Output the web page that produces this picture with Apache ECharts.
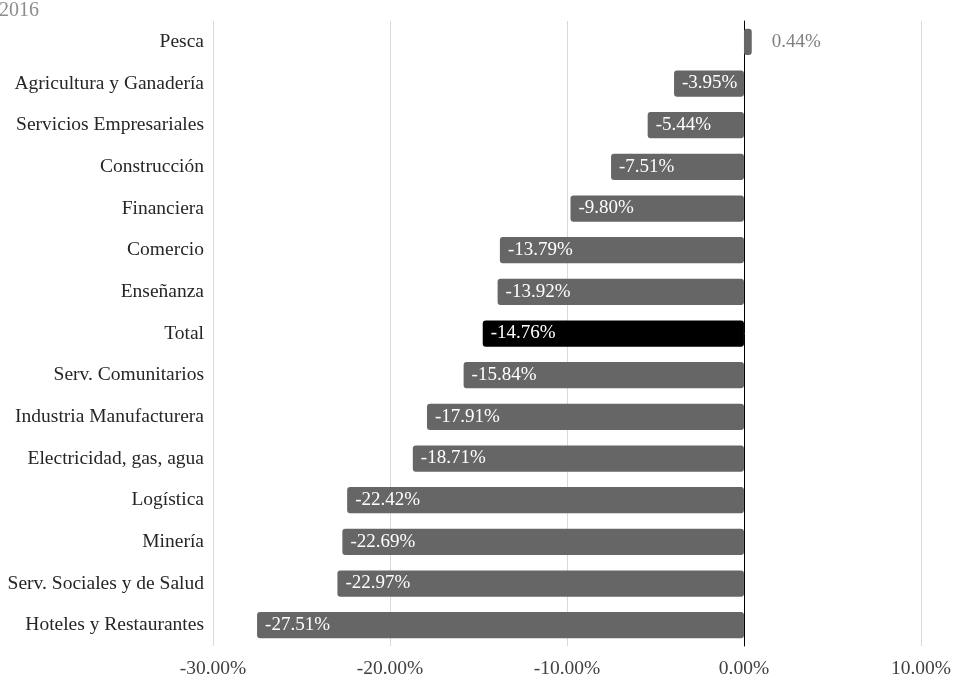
<!DOCTYPE html>
<html><head><meta charset="utf-8">
<script src="https://cdn.jsdelivr.net/npm/echarts@6/dist/echarts.min.js"></script>
<style>html,body{margin:0;padding:0;background:#fff}#c{width:954px;height:679px}</style>
</head><body><div id="c"></div>
<script>
const categories = ["Pesca","Agricultura y Ganadería","Servicios Empresariales","Construcción","Financiera","Comercio","Enseñanza","Total","Serv. Comunitarios","Industria Manufacturera","Electricidad, gas, agua","Logística","Minería","Serv. Sociales y de Salud","Hoteles y Restaurantes"];
const values = [0.44,-3.95,-5.44,-7.51,-9.80,-13.79,-13.92,-14.76,-15.84,-17.91,-18.71,-22.42,-22.69,-22.97,-27.51];
const highlight = "Total";
const titleText = "2016";
const FONT = "Liberation Serif";

const chart = echarts.init(document.getElementById('c'));
const data = values.map((v,i)=>({
  value: v,
  itemStyle: {color: categories[i]===highlight ? '#000000' : '#666666'},
  label: v>=0 ? {position:'right', distance:20, color:'#808080'} : {position:'insideLeft', color:'#ffffff'}
}));
chart.setOption({
  animation:false,
  title:{text:titleText, left:-6, top:-4, textStyle:{fontFamily:FONT, fontSize:20, fontWeight:'normal', color:'#8c8c8c'}},
  grid:{left:213, right:30, top:21, bottom:33, containLabel:false},
  xAxis:{type:'value', min:-30, max:10, interval:10,
    axisLine:{show:false}, axisTick:{show:false},
    splitLine:{show:true, lineStyle:{color:'#d9d9d9', width:1}},
    axisLabel:{formatter:v=>v.toFixed(2)+'%', fontFamily:FONT, fontSize:19.5, color:'#404040', margin:13}},
  yAxis:{type:'category', data:categories, inverse:true,
    axisLine:{show:true, onZero:true, lineStyle:{color:'#000000', width:1}},
    axisTick:{show:false},
    axisLabel:{fontFamily:FONT, fontSize:19.5, color:'#262626', margin:9}},
  series:[{type:'bar', data:data, barWidth:'63%',
    itemStyle:{borderRadius:3},
    label:{show:true, formatter:p=>p.value.toFixed(2)+'%', fontFamily:FONT, fontSize:19, distance:8}}]
});
</script></body></html>
